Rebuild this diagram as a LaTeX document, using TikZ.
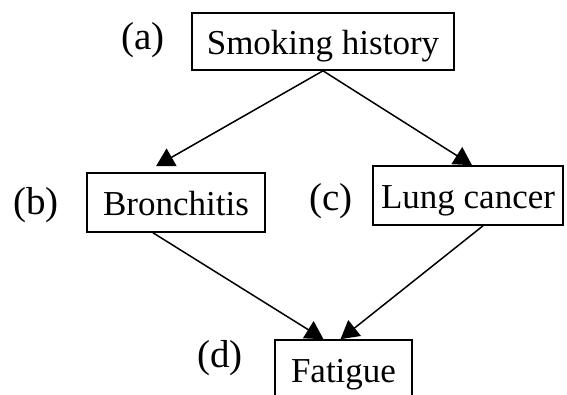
\documentclass[tikz,border=0pt]{standalone}
\usepackage{fontspec}
\setmainfont{Liberation Serif}
\usetikzlibrary{arrows.meta}
\begin{document}
\begin{tikzpicture}[x=1pt,y=-1pt,
  varbox/.style={draw,line width=1.6pt,inner sep=0pt,anchor=center,
    font=\fontsize{35}{40}\selectfont,text height=28pt,text depth=2pt},
  tag/.style={inner sep=0pt,anchor=center,font=\fontsize{39}{44}\selectfont},
  link/.style={line width=1.5pt,-{Triangle[length=18pt,width=20pt]}}]
\useasboundingbox (0,0) rectangle (567,394);
\clip (0,0) rectangle (567,394);

% variables
\node[varbox,minimum width=262pt,minimum height=57pt] (smoke) at (323,41.5) {Smoking history};
\node[varbox,minimum width=178pt,minimum height=59pt] (bron) at (176,202.5) {Bronchitis};
\node[varbox,minimum width=190pt,minimum height=59pt] (lung) at (468,195.5) {Lung cancer};
\node[varbox,minimum width=137pt,minimum height=58pt] (fat) at (343.5,369) {Fatigue};

% letters
\node[tag] (la) at (143,40) {(a)};
\node[tag] (lb) at (36,205) {(b)};
\node[tag] (lc) at (331,201) {(c)};
\node[tag] (ld) at (220,358) {(d)};

% dependencies
\draw[link] (smoke.south) -- ([xshift=-20pt,yshift=6pt]bron.north);
\draw[link] (smoke.south) -- ([xshift=4pt]lung.north);
\draw[link] ([xshift=-23pt]bron.south) -- ([xshift=-20pt]fat.north);
\draw[link] ([xshift=15pt]lung.south) -- ([xshift=-3pt]fat.north);
\end{tikzpicture}
\end{document}
